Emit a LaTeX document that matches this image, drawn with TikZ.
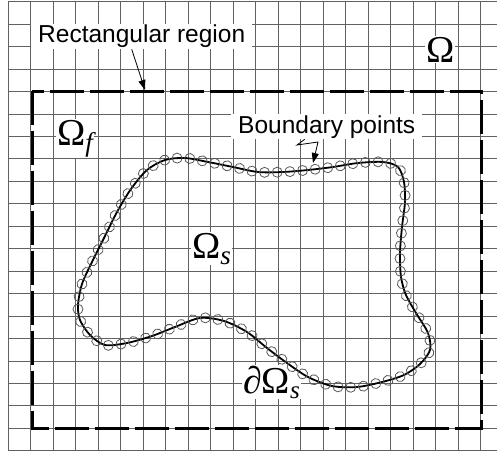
\documentclass[tikz,border=0pt]{standalone}
\usepackage{fontspec}
\setmainfont{Liberation Serif}
\newfontfamily\labelsans{Liberation Sans}
\usetikzlibrary{decorations.markings,arrows.meta}
\newcommand\OmBig{\fontsize{38}{40}\selectfont}
\newcommand\OmSub{\fontsize{27}{28}\selectfont\itshape}
\begin{document}
\begin{tikzpicture}[x=1pt,y=-1pt,
  gridline/.style={black!62,line width=1pt},
  regionbox/.style={line width=3pt,dash pattern=on 34pt off 6pt},
  boundary/.style={line width=1.8pt},
  bpoint/.style={black!65,line width=0.8pt},
  sanslabel/.style={font=\labelsans\fontsize{24.5}{26}\selectfont, fill=white, inner xsep=7pt, inner ysep=1pt, anchor=base west},
  greeklabel/.style={fill=white, inner sep=1pt, anchor=base west},
  pointer/.style={line width=0.8pt, -{Triangle[length=10pt,width=7pt]}}
]
\useasboundingbox (0,0) rectangle (497,452);
\begin{scope}
\clip (0,0) rectangle (497,452);
\foreach \k in {0,...,21} \draw[gridline] ({8+22.52*\k},1.8) -- ({8+22.52*\k},450.8);
\foreach \k in {0,...,20} \draw[gridline] (8,{1.8+22.45*\k}) -- (497,{1.8+22.45*\k});
\end{scope}

\node[sanslabel] (rr) at (31,43) {Rectangular region};
\node[sanslabel] (bp) at (231,133) {Boundary points};
\node[greeklabel] (om) at (425,62) {\OmBig Ω};
\node[greeklabel] (omf) at (56,145) {\OmBig Ω\raisebox{-6pt}{\OmSub f}};
\node[greeklabel] (oms) at (191,258) {\OmBig Ω\raisebox{-6pt}{\OmSub s}};
\node[greeklabel] (doms) at (242,393) {\OmBig ∂Ω\raisebox{-5pt}{\fontsize{25}{26}\selectfont\itshape s}};

\draw[regionbox] (32,91) rectangle (481,428);

\draw[boundary, postaction={decorate, decoration={markings,
   mark=between positions 0 and 0.99 step 0.0125 with {\draw[bpoint] (0,0) circle[radius=5pt];}}}]
  plot[smooth cycle] coordinates {
  (78,305) (82,284) (92,262) (104,238) (117,212) (131,189) (147,170) (165,160)
  (185,158) (208,162) (233,167) (258,172) (283,172) (308,170) (333,167) (358,163)
  (383,162) (398,167) (404,182) (405,202) (402,227) (400,253) (401,277) (406,295)
  (416,313) (428,333) (430,350) (420,364) (404,375) (382,382) (357,387) (332,386)
  (308,377) (287,363) (267,348) (247,332) (224,321) (200,318) (175,327) (152,336)
  (127,343) (105,345) (90,335) (80,320)};

\coordinate (rrtip) at (145,90);
\draw[pointer] ([xshift=-10pt]rr.south) -- (rrtip);
\coordinate (zz1) at (297,145);
\coordinate (zz2) at (318,142);
\coordinate (bptip) at (313,163);
\draw[pointer] ([xshift=-22pt]bp.south) -- (zz1) -- (zz2) -- (bptip);
\end{tikzpicture}
\end{document}
